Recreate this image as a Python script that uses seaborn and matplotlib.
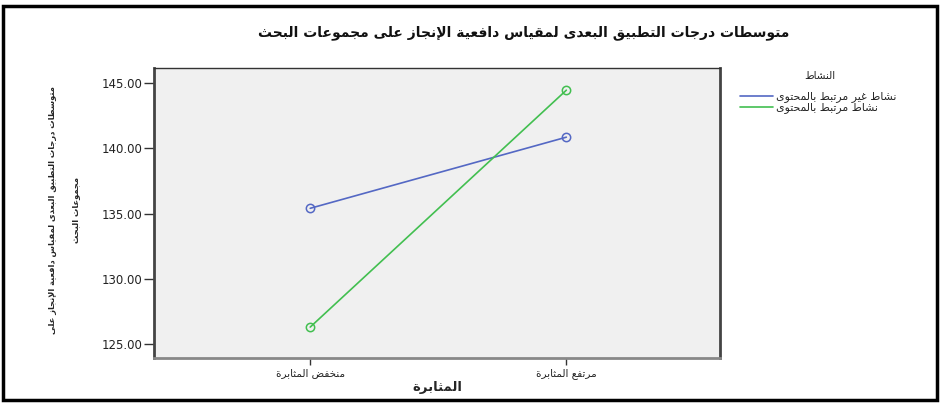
import numpy as np
import pandas as pd
import matplotlib
matplotlib.use("Agg")
import matplotlib.pyplot as plt
from matplotlib.lines import Line2D
from matplotlib.patches import Rectangle
import seaborn as sns

# ---- Arabic shaping (contextual forms + right-to-left order) ----
# letter: (isolated, final, initial, medial); two-form letters only join to the right
FORMS = {
    "\u0627": (0xFE8D, 0xFE8E), "\u0623": (0xFE83, 0xFE84), "\u0625": (0xFE87, 0xFE88),
    "\u0628": (0xFE8F, 0xFE90, 0xFE91, 0xFE92), "\u0629": (0xFE93, 0xFE94),
    "\u062A": (0xFE95, 0xFE96, 0xFE97, 0xFE98), "\u062B": (0xFE99, 0xFE9A, 0xFE9B, 0xFE9C),
    "\u062C": (0xFE9D, 0xFE9E, 0xFE9F, 0xFEA0), "\u062D": (0xFEA1, 0xFEA2, 0xFEA3, 0xFEA4),
    "\u062E": (0xFEA5, 0xFEA6, 0xFEA7, 0xFEA8), "\u062F": (0xFEA9, 0xFEAA),
    "\u0630": (0xFEAB, 0xFEAC), "\u0631": (0xFEAD, 0xFEAE), "\u0632": (0xFEAF, 0xFEB0),
    "\u0633": (0xFEB1, 0xFEB2, 0xFEB3, 0xFEB4), "\u0634": (0xFEB5, 0xFEB6, 0xFEB7, 0xFEB8),
    "\u0635": (0xFEB9, 0xFEBA, 0xFEBB, 0xFEBC), "\u0636": (0xFEBD, 0xFEBE, 0xFEBF, 0xFEC0),
    "\u0637": (0xFEC1, 0xFEC2, 0xFEC3, 0xFEC4), "\u0638": (0xFEC5, 0xFEC6, 0xFEC7, 0xFEC8),
    "\u0639": (0xFEC9, 0xFECA, 0xFECB, 0xFECC), "\u063A": (0xFECD, 0xFECE, 0xFECF, 0xFED0),
    "\u0641": (0xFED1, 0xFED2, 0xFED3, 0xFED4), "\u0642": (0xFED5, 0xFED6, 0xFED7, 0xFED8),
    "\u0643": (0xFED9, 0xFEDA, 0xFEDB, 0xFEDC), "\u0644": (0xFEDD, 0xFEDE, 0xFEDF, 0xFEE0),
    "\u0645": (0xFEE1, 0xFEE2, 0xFEE3, 0xFEE4), "\u0646": (0xFEE5, 0xFEE6, 0xFEE7, 0xFEE8),
    "\u0647": (0xFEE9, 0xFEEA, 0xFEEB, 0xFEEC), "\u0648": (0xFEED, 0xFEEE),
    "\u0649": (0xFEEF, 0xFEF0), "\u064A": (0xFEF1, 0xFEF2, 0xFEF3, 0xFEF4),
}
LAM_ALEF = {"\u0627": (0xFEFB, 0xFEFC), "\u0623": (0xFEF7, 0xFEF8), "\u0625": (0xFEF9, 0xFEFA)}


def shape_ar(text):
    # merge lam + alef into ligature placeholders
    chars = []
    i = 0
    while i < len(text):
        c = text[i]
        if c == "\u0644" and i + 1 < len(text) and text[i + 1] in LAM_ALEF:
            chars.append(("LA", text[i + 1]))
            i += 2
        else:
            chars.append(("C", c))
            i += 1

    def dual(item):
        kind, c = item
        return kind == "C" and c in FORMS and len(FORMS[c]) == 4

    def letter(item):
        kind, c = item
        return kind == "LA" or c in FORMS

    out = []
    for k, item in enumerate(chars):
        kind, c = item
        prev_joins = k > 0 and dual(chars[k - 1])
        next_ok = k + 1 < len(chars) and letter(chars[k + 1])
        if kind == "LA":
            iso, fin = LAM_ALEF[c]
            out.append(chr(fin if prev_joins else iso))
            continue
        if c not in FORMS:
            out.append(c)
            continue
        f = FORMS[c]
        if len(f) == 4:
            if prev_joins and next_ok:
                cp = f[3]
            elif prev_joins:
                cp = f[1]
            elif next_ok:
                cp = f[2]
            else:
                cp = f[0]
        else:
            cp = f[1] if prev_joins else f[0]
        out.append(chr(cp))
    return "".join(reversed(out))


# ---- data ----
persistence_levels = ["منخفض المثابرة", "مرتفع المثابرة"]
activity_groups = ["نشاط غير مرتبط بالمحتوى", "نشاط مرتبط بالمحتوى"]
unrelated_means = [135.40, 140.85]
related_means = [126.30, 144.45]
y_ticks = [125.0, 130.0, 135.0, 140.0, 145.0]

title_text = "متوسطات درجات التطبيق البعدى لمقياس دافعية الإنجاز على مجموعات البحث"
ylabel_lines = ["متوسطات درجات التطبيق البعدى لمقياس دافعية الإنجاز على", "مجموعات البحث"]
xlabel_text = "المثابرة"
legend_title = "النشاط"

x_shaped = [shape_ar(s) for s in persistence_levels]
g_shaped = [shape_ar(s) for s in activity_groups]

df = pd.DataFrame({
    "level": x_shaped * 2,
    "mean": unrelated_means + related_means,
    "group": [g_shaped[0]] * 2 + [g_shaped[1]] * 2,
})

line_colors = ["#5468C4", "#42BF50"]

sns.set_style("white")
plt.rcParams["font.family"] = ["DejaVu Sans"]

fig = plt.figure(figsize=(9.42, 4.07), dpi=100)
ax = fig.add_axes([154 / 942, 1 - 358 / 407, 566 / 942, 290 / 407])
ax.set_facecolor("#F0F0F0")

sns.pointplot(
    data=df, x="level", y="mean", hue="group",
    order=x_shaped, hue_order=g_shaped,
    palette=line_colors, markers="o", errorbar=None,
    linewidth=1.2, markersize=6, markeredgewidth=1.1,
    markerfacecolor="none", legend=False, ax=ax,
)

ax.set_xlim(-0.61, 1.6)
ax.set_ylim(123.93, 146.15)
ax.set_yticks(y_ticks)
ax.set_yticklabels([f"{v:.2f}" for v in y_ticks], fontsize=8.5, color="#222222")
ax.set_xticks([0, 1])
ax.set_xticklabels(x_shaped, fontsize=7.5, color="#222222")
ax.tick_params(axis="y", direction="out", length=7, width=1, color="#333333", pad=1, left=True)
ax.tick_params(axis="x", direction="out", length=5, width=1, color="#333333", pad=2, bottom=True)

ax.set_xlabel(shape_ar(xlabel_text), fontsize=9.5, fontweight="bold", labelpad=2)
ax.set_ylabel("\n".join(shape_ar(s) for s in ylabel_lines), fontsize=6.0,
              fontweight="bold", multialignment="center", linespacing=3.0)
ax.yaxis.set_label_coords((80 - 154) / 566, (358 - 210) / 290)

for side, col, lw in [("left", "#444444", 2.0), ("bottom", "#888888", 2.0),
                      ("right", "#444444", 2.0), ("top", "#333333", 1.0)]:
    ax.spines[side].set_color(col)
    ax.spines[side].set_linewidth(lw)
    ax.spines[side].set_visible(True)

fig.text(524 / 942, 1 - 33 / 407, shape_ar(title_text), ha="center", va="center",
         fontsize=10, fontweight="bold", color="#111111")

fig.text(820 / 942, 1 - 76 / 407, shape_ar(legend_title), ha="center", va="center",
         fontsize=7.5, color="#222222")
handles = [Line2D([], [], color=c, lw=1.2) for c in line_colors]
leg = fig.legend(handles, g_shaped,
                 loc="upper left", bbox_to_anchor=(736 / 942, 1 - 87 / 407),
                 frameon=False, fontsize=7.8, borderaxespad=0,
                 handlelength=3.0, handletextpad=0.3, labelspacing=0.0)

fig.patches.append(Rectangle((3 / 942, 1 - 400 / 407), 934 / 942, 394 / 407,
                             transform=fig.transFigure, fill=False,
                             edgecolor="black", linewidth=2.5))

fig.savefig("out.png", dpi=100)
